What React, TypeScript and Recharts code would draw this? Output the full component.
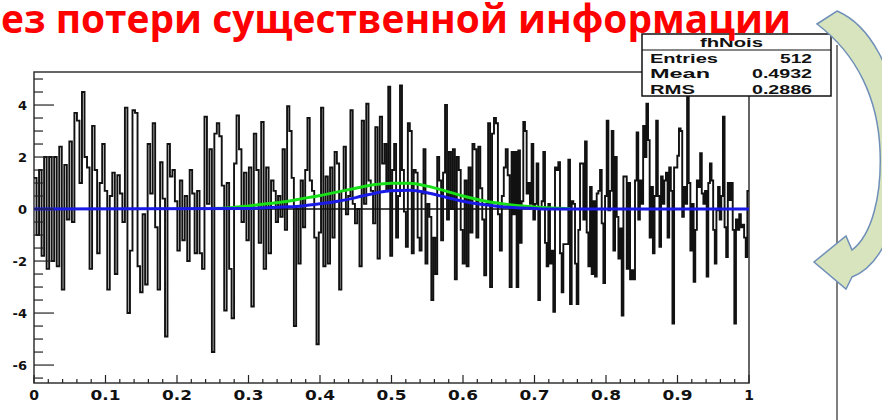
import React from "react";
import { LineChart, Line, XAxis, YAxis, ReferenceArea } from "recharts";

const title = "ез потери существенной информации";

// histogram bins, read piecewise from the picture (one list per x range)
const segmentEdges = [0, 0.166, 0.335, 0.49, 0.668, 0.836, 1];

const noise1 = [
  1.2, -1.0, 1.5, -1.8, 2.0, -2.3, 2.0, -2.0, 2.0, -2.2, 2.4, -3.1, 1.7, -0.4, 2.6, -0.5,
  3.7, 3.4, 1.0, 4.5, 2.0, 1.6, -2.3, 3.2, 1.5, -1.7, 1.0, 2.5, 0.7, -3.1, 0.5, 1.4, -2.5,
  1.3, 0.6, -0.5, 3.9, -4.0, -1.6, 3.8, 3.7, -2.2, -3.2, -0.2, -2.9, 2.5, 0.6,
];
const noise2 = [
  3.3, -0.7, -3.1, 1.8, 0.4, -4.9, 2.5, 1.25, 1.5, 0.3, -1.6, 1.1, -1.2, 0.5, -2.0, 1.5,
  0.6, -1.7, 0.7, -1.7, -2.3, 3.55, 0.2, 2.3, -5.5, 2.9, 3.3, 2.8, 0.9, -3.9, 1.0, -2.3,
  -4.2, 1.75, 3.6, 2.3, -0.5, 1.4, -1.2, 1.6, -3.75, 2.9, 1.5, -1.3, 3.35, -2.3, 1.6, -1.7, 1.1,
];
const noise3 = [
  0.7, -0.5, 0.5, -0.3, 2.3, -0.8, 3.95, 3.0, 1.2, -4.5, 0.0, -2.1, 1.1, -0.7, 1.5, 3.5,
  1.1, 0.7, -1.1, -5.2, -0.9, 3.9, -2.2, 1.25, -2.1, 1.6, -1.1, 2.2, 1.75, -3.1, 0.7, 2.4,
  -0.2, 0.5, 3.8, 0.2, -0.55, 0.0, -2.2, 3.4, 0.2, 4.05, 1.1, 0.7, -0.55, 3.15, -1.9, 3.55, 1.75,
];
const noise4 = [
  2.5, 0.7, 4.7, -1.8, 1.5, 2.5, -1.1, 0.5, 4.75, 1.5, -0.1, -1.45, 3.3, 3.0, -1.7, 1.5,
  1.4, -1.1, -1.6, 0.6, 2.3, -2.1, 0.2, -0.3, -3.5, -1.1, -2.5, 2.0, 1.1, -1.2, 1.4, 4.0,
  -0.4, 2.2, 0.0, 2.3, -2.7, 2.0, 1.5, -0.8, -2.1, 1.1, -2.2, 1.6, -0.9, 2.5, 2.3, -1.1,
  2.4, 0.8, -0.4, -2.55, 0.2, 3.3, -3.0, 2.9, 3.5, 3.3, -0.2, -1.6, 0.5, 1.6, 2.3, 1.3, -3.0,
];
const noise5 = [
  2.2, -0.2, 2.2, -3.0, 2.25, -1.3, 0.3, 3.35, 3.0, 0.6, 1.0, 0.2, 2.5, -0.4, 0.2, 1.75,
  -3.5, 0.0, 0.3, 2.2, -1.3, -2.2, 0.2, -2.1, -1.6, -3.95, 1.6, 1.5, 1.8, -1.7, -3.2, -1.35,
  -1.35, -1.35, 1.9, -3.65, 0.3, 0.2, -2.1, -3.65, -0.8, 1.75, 1.75, -0.4, 2.6, -0.9, -2.2,
  0.85, -2.5, 0.3, -2.6, 0.6, 0.7, 1.5, -0.55, -2.85, 0.5, 3.4, -0.05, 0.7, 3.0, -1.6, 2.0,
  -0.3, -1.9, -0.75, -4.1, 1.25, 1.25, -2.3, 1.0, -2.7,
];
const noise6 = [
  -2.35, -2.7, 1.1, 2.95, -0.4, 1.1, 0.2, 3.2, 2.0, 4.05, 2.65, -1.1, 0.85, -1.7, 0.5, 3.4,
  0.5, -1.45, 1.25, 0.2, 1.1, 1.4, -1.1, 1.6, 0.7, -4.4, 1.6, 1.6, 2.05, 3.1, 3.0, -0.3,
  0.85, 0.2, 5.0, 1.0, -1.6, 0.2, -2.8, -0.8, 1.1, 0.85, 2.15, 0.6, 0.2, 0.7, -2.6, 1.0,
  1.75, 1.1, -0.8, -2.1, -0.05, 0.85, -0.4, 0.5, 3.55, -0.7, -1.85, 1.0, 0.35, 1.0, -0.8,
  -4.4, -0.4, -0.8, -0.2, -0.7, -0.6, -1.1, -1.85, 0.7,
];
const noiseSegments = [noise1, noise2, noise3, noise4, noise5, noise6];

// green gaussian
const greenX = [0.25, 0.275, 0.3, 0.325, 0.35, 0.375, 0.4, 0.425, 0.45, 0.475, 0.5, 0.525, 0.55, 0.575, 0.6, 0.625, 0.65, 0.675, 0.7, 0.725, 0.75];
const greenY = [0.02, 0.05, 0.12, 0.2, 0.28, 0.4, 0.52, 0.66, 0.8, 0.93, 0.99, 0.99, 0.88, 0.7, 0.5, 0.34, 0.22, 0.14, 0.08, 0.04, 0.01];

// blue gaussian
const blueX = [0, 0.3, 0.325, 0.35, 0.375, 0.4, 0.425, 0.45, 0.475, 0.5, 0.525, 0.55, 0.575, 0.6, 0.625, 0.65, 0.675, 0.7, 0.725, 1];
const blueY = [0, 0.02, 0.05, 0.08, 0.12, 0.2, 0.3, 0.44, 0.6, 0.7, 0.72, 0.63, 0.46, 0.3, 0.18, 0.1, 0.05, 0.02, 0, 0];

const xLabels = [0, 0.1, 0.2, 0.3, 0.4, 0.5, 0.6, 0.7, 0.8, 0.9, 1];
const yLabels = [-6, -4, -2, 0, 2, 4];

const statsName = "fhNois";
const statsRows = [
  ["Entries", "512"],
  ["Mean", "0.4932"],
  ["RMS", "0.2886"],
];

const yMin = -6.69;
const yMax = 5.27;

const noiseData: { x: number; y: number }[] = [];
noiseSegments.forEach((vals, s) => {
  const a = segmentEdges[s];
  const b = segmentEdges[s + 1];
  vals.forEach((v, i) => noiseData.push({ x: a + ((b - a) * i) / vals.length, y: v }));
});
noiseData.push({ x: 1, y: noise6[noise6.length - 1] });

const greenData = greenX.map((x, i) => ({ x, y: greenY[i] }));
const blueData = blueX.map((x, i) => ({ x, y: blueY[i] }));
const zeroData = [{ x: 0, y: 0 }, { x: 1, y: 0 }];

const xTicks = Array.from({ length: 51 }, (_, i) => i / 50);
const yTicks = Array.from({ length: 24 }, (_, i) => -6.5 + i * 0.5);

const labelFont = "'DejaVu Sans', sans-serif";

function XTick(props: any) {
  const { x, y, payload } = props;
  const v = payload.value;
  const label = xLabels.find((l) => Math.abs(l - v) < 1e-9);
  const major = label !== undefined;
  return (
    <g>
      <line x1={x} x2={x} y1={y} y2={y - (major ? 8 : 4)} stroke="#222" strokeWidth={1.2} />
      {major && (
        <text
          x={x}
          y={y + 17}
          textAnchor="middle"
          fontFamily={labelFont}
          fontWeight="bold"
          fontSize={14}
          fill="#111"
          {...(String(label).length > 1 ? { textLength: 30, lengthAdjust: "spacingAndGlyphs" } : {})}
        >
          {String(label)}
        </text>
      )}
    </g>
  );
}

function YTick(props: any) {
  const { x, y, payload } = props;
  const v = payload.value;
  const major = yLabels.includes(v);
  return (
    <g>
      <line x1={x} x2={x + (major ? 20 : 9)} y1={y} y2={y} stroke="#222" strokeWidth={1.2} />
      {major && (
        <text x={x - 7} y={y + 4.5} textAnchor="end" fontFamily={labelFont} fontWeight="bold" fontSize={13} fill="#111">
          {String(v)}
        </text>
      )}
    </g>
  );
}

export default function App() {
  return (
    <div style={{ position: "absolute", left: 0, top: 0, width: 882, height: 420, background: "#fff", overflow: "hidden" }}>
      <LineChart width={882} height={420} margin={{ top: 72, right: 133, bottom: 0, left: 0 }}>
        <XAxis
          type="number"
          dataKey="x"
          domain={[0, 1]}
          ticks={xTicks}
          interval={0}
          tick={<XTick />}
          tickSize={0}
          tickMargin={0}
          axisLine={false}
          height={37}
          allowDataOverflow
        />
        <YAxis
          type="number"
          dataKey="y"
          domain={[yMin, yMax]}
          ticks={yTicks}
          interval={0}
          tick={<YTick />}
          tickSize={0}
          tickMargin={0}
          axisLine={false}
          width={34}
          allowDataOverflow
        />
        <ReferenceArea x1={0} x2={1} y1={yMin} y2={yMax} fill="none" stroke="#333" strokeWidth={1.5} fillOpacity={0} />
        <Line data={noiseData} dataKey="y" type="stepAfter" stroke="#111" strokeWidth={1.9} dot={false} isAnimationActive={false} />
        <Line data={zeroData} dataKey="y" type="linear" stroke="#111" strokeWidth={1.5} dot={false} isAnimationActive={false} />
        <Line data={greenData} dataKey="y" type="monotone" stroke="#18e018" strokeWidth={3} dot={false} isAnimationActive={false} />
        <Line data={blueData} dataKey="y" type="monotone" stroke="#1a1ae6" strokeWidth={3} dot={false} isAnimationActive={false} />
      </LineChart>
      <svg width={882} height={420} style={{ position: "absolute", left: 0, top: 0, pointerEvents: "none" }}>
        <line x1={837} x2={837} y1={45} y2={420} stroke="#555" strokeWidth={1.5} />
        <g fontFamily="'Liberation Sans', Arial, sans-serif" fontWeight="bold" fontSize={12.5} fill="#111">
          <rect x={642} y={34} width={189} height={62} fill="#fff" stroke="#111" strokeWidth={1.5} />
          <line x1={642} x2={831} y1={50} y2={50} stroke="#111" strokeWidth={1.2} />
          <text x={731.5} y={46.5} textAnchor="middle" textLength={63} lengthAdjust="spacingAndGlyphs">
            {statsName}
          </text>
          {statsRows.map(([k, v], i) => (
            <g key={k}>
              <text x={650} y={62.5 + i * 15.5} textLength={[68, 60, 45][i]} lengthAdjust="spacingAndGlyphs">
                {k}
              </text>
              <text x={812} y={62.5 + i * 15.5} textAnchor="end" textLength={v.length > 3 ? 60 : 32} lengthAdjust="spacingAndGlyphs">
                {v}
              </text>
            </g>
          ))}
        </g>
        <text
          x={1}
          y={33}
          fontFamily="'Open Sans', sans-serif"
          fontWeight="bold"
          fontSize={39}
          fill="#ff0000"
          textLength={790}
          lengthAdjust="spacingAndGlyphs"
        >
          {title}
        </text>
        <path
          d="M 817 24 L 837 11 C 870 25, 895 70, 900 130 C 905 200, 890 262, 852 277 L 846 289 L 814 262 L 846 236 L 852 250 C 872 235, 882 195, 880 150 C 878 100, 858 55, 817 24 Z"
          fill="#d7e4bd"
          stroke="#6f8fb8"
          strokeWidth={1.5}
        />
      </svg>
    </div>
  );
}
